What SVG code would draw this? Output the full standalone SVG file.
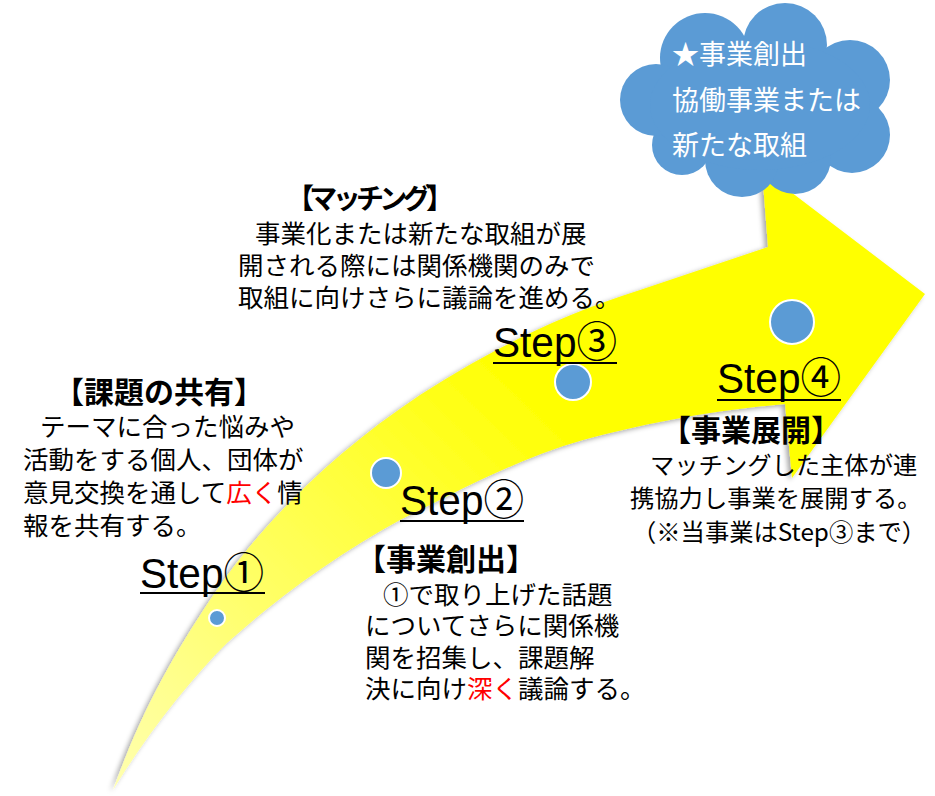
<svg xmlns="http://www.w3.org/2000/svg" width="935" height="796" viewBox="0 0 935 796">
<defs>
<linearGradient id="yg" gradientUnits="userSpaceOnUse" x1="113" y1="790" x2="520" y2="370">
<stop offset="0" stop-color="#FFFFB0"/>
<stop offset="1" stop-color="#FFFF00"/>
</linearGradient>
<filter id="sh" x="-10%" y="-10%" width="120%" height="120%">
<feDropShadow dx="-3" dy="2" stdDeviation="2.5" flood-color="#000" flood-opacity="0.35"/>
</filter>
<style>
.jp{font-family:"Noto Sans CJK JP","Noto Sans",sans-serif;font-size:25.5px;fill:#000}
.tt{font-family:"Noto Sans CJK JP","Noto Sans",sans-serif;font-size:30px;font-weight:bold;fill:#000}
.cl{font-family:"Noto Sans CJK JP","Noto Sans",sans-serif;font-size:27px;fill:#fff}
.st{font-family:"Liberation Sans","Noto Sans CJK JP",sans-serif;font-size:42px;fill:#000}
.ul{stroke:#000;stroke-width:2}
.dot{fill:#5B9BD5;stroke:#fff;stroke-width:2}
.red{fill:#FF0000}
</style>
</defs>

<g id="arrow">
<path d="M113,790 C140,715 170,660 210,600 C260,525 330,455 420,395 C490,350 560,315 640,290 L768,247 L762,170 L925,294 L792,478 L785,404 C700,412 640,425 583,440 C520,458 460,490 400,520 C340,553 280,595 227,643 C190,680 150,730 113,790 Z" fill="url(#yg)" filter="url(#sh)"/>
</g>

<g id="cloud">
<g fill="#5B9BD5">
<circle cx="705" cy="58" r="45"/>
<circle cx="785" cy="45" r="42"/>
<circle cx="850" cy="80" r="40"/>
<circle cx="852" cy="135" r="38"/>
<circle cx="795" cy="158" r="36"/>
<circle cx="742" cy="160" r="37"/>
<circle cx="682" cy="145" r="30"/>
<circle cx="656" cy="100" r="36"/>
<ellipse cx="760" cy="105" rx="110" ry="65"/>
</g>
<text class="cl" x="672" y="64">★事業創出</text>
<text class="cl" x="672" y="110">協働事業または</text>
<text class="cl" x="672" y="155">新たな取組</text>
</g>

<g id="step1">
<circle class="dot" cx="217" cy="618" r="8"/>
<text class="st" x="140" y="588" textLength="124" lengthAdjust="spacingAndGlyphs">Step①</text>
<line class="ul" x1="140" y1="593" x2="265" y2="593"/>
<text class="tt" x="54" y="403">【課題の共有】</text>
<text class="jp" x="40" y="436">テーマに合った悩みや</text>
<text class="jp" x="23" y="469">活動をする個人、団体が</text>
<text class="jp" x="23" y="502">意見交換を通して<tspan class="red">広く</tspan>情</text>
<text class="jp" x="23" y="535">報を共有する。</text>
</g>

<g id="step2">
<circle class="dot" cx="386" cy="473" r="15"/>
<text class="st" x="400" y="515" textLength="124" lengthAdjust="spacingAndGlyphs">Step②</text>
<line class="ul" x1="400" y1="521" x2="524" y2="521"/>
<text class="tt" x="356" y="570">【事業創出】</text>
<text class="jp" x="383" y="604">①で取り上げた話題</text>
<text class="jp" x="365" y="635">についてさらに関係機</text>
<text class="jp" x="365" y="667">関を招集し、課題解</text>
<text class="jp" x="365" y="698">決に向け<tspan class="red">深く</tspan>議論する。</text>
</g>

<g id="step3">
<circle class="dot" cx="573" cy="382" r="18"/>
<text class="st" x="493" y="357" textLength="124" lengthAdjust="spacingAndGlyphs">Step③</text>
<line class="ul" x1="493" y1="363" x2="617" y2="363"/>
<text class="tt" x="286" y="209" style="font-size:28px" textLength="168" lengthAdjust="spacing">【マッチング】</text>
<text class="jp" x="255" y="243">事業化または新たな取組が展</text>
<text class="jp" x="238" y="275">開される際には関係機関のみで</text>
<text class="jp" x="238" y="307">取組に向けさらに議論を進める。</text>
</g>

<g id="step4">
<circle class="dot" cx="792" cy="322" r="22"/>
<text class="st" x="717" y="393" textLength="124" lengthAdjust="spacingAndGlyphs">Step④</text>
<line class="ul" x1="717" y1="400" x2="841" y2="400"/>
<text class="tt" x="661" y="441">【事業展開】</text>
<text class="jp" x="650" y="474" style="font-size:24.3px">マッチングした主体が連</text>
<text class="jp" x="630" y="507" style="font-size:24.3px">携協力し事業を展開する。</text>
<text class="jp" x="632" y="541" style="font-size:24.3px">（※当事業はStep③まで）</text>
</g>
</svg>
